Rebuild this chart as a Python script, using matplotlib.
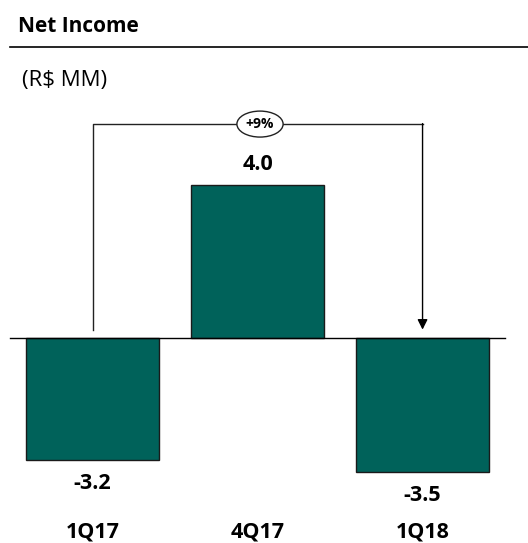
import matplotlib.pyplot as plt
from matplotlib.patches import Ellipse

plt.rcParams['font.family'] = ['Open Sans', 'DejaVu Sans']

# quarterly net income, R$ MM
quarters = ['1Q17', '4Q17', '1Q18']
net_income = [-3.2, 4.0, -3.5]
growth_label = '+9%'

bar_color = '#00625A'

fig = plt.figure(figsize=(5.28, 5.43), dpi=100)
ax = fig.add_axes([0, 0, 1, 1])
ax.set_xlim(-0.5606, 2.639)
ax.set_ylim(-5.366, 8.848)
ax.axis('off')

xs = list(range(len(quarters)))
ax.bar(xs, net_income, width=0.806, color=bar_color, edgecolor='#1a1a1a', linewidth=1.0, zorder=2)

# zero line
ax.axhline(0, xmin=10 / 528, xmax=505 / 528, color='black', linewidth=1.0, zorder=3)

# value labels
for x, v in zip(xs, net_income):
    if v >= 0:
        ax.text(x, v + 0.55, f'{v:.1f}', ha='center', va='center', fontsize=15.5, fontweight='bold')
    else:
        ax.text(x, v - 0.62, f'{v:.1f}', ha='center', va='center', fontsize=15.5, fontweight='bold')

# category labels
for x, q in zip(xs, quarters):
    ax.text(x, -5.08, q, ha='center', va='center', fontsize=15.5, fontweight='bold')

# bracket from first to last quarter
y_top = 5.6
ax.plot([0, 0, 2], [0.2, y_top, y_top], color='#222222', linewidth=1.0, zorder=3)
ax.annotate('', xy=(2, 0.22), xytext=(2, y_top + 0.013),
            arrowprops=dict(arrowstyle='-|>', color='black', lw=1.0,
                            mutation_scale=15, shrinkA=0, shrinkB=0))
ell = Ellipse((1.015, y_top), width=0.28, height=0.68, facecolor='white',
              edgecolor='#222222', linewidth=1.0, zorder=4)
ax.add_patch(ell)
ax.text(1.015, y_top, growth_label, ha='center', va='center', fontsize=10, fontweight='bold', zorder=5)

# header
fig.text(18 / 528, 1 - 27 / 543, 'Net Income', ha='left', va='center', fontsize=15, fontweight='bold')
fig.add_artist(plt.Line2D([10 / 528, 1], [1 - 47 / 543, 1 - 47 / 543], color='black', linewidth=1.2))
fig.text(22 / 528, 1 - 80 / 543, '(R$ MM)', ha='left', va='center', fontsize=16)

fig.savefig('out.png', dpi=100)
